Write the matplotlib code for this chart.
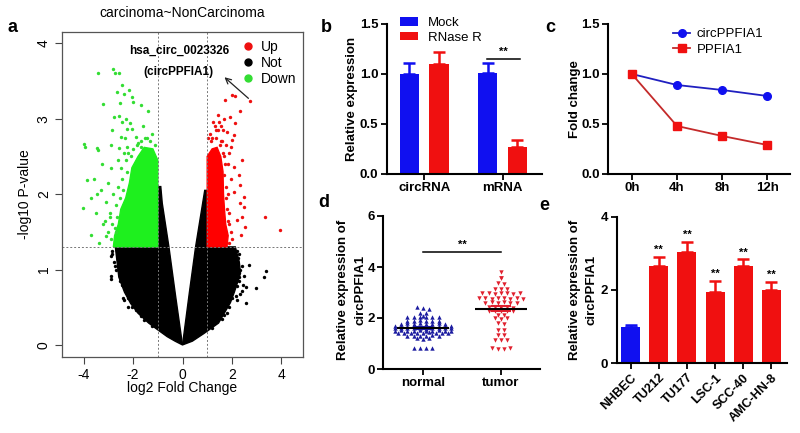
import numpy as np
import matplotlib
matplotlib.use('Agg')
import matplotlib.pyplot as plt
from matplotlib.lines import Line2D

plt.rcParams['font.family'] = ['Liberation Sans', 'DejaVu Sans']

# ---------------- panel a: volcano plot (carcinoma vs non-carcinoma) ----------------
fc_cut = 1.0          # |log2 FC| threshold
p_cut = 1.301         # -log10(0.05)

not_left = [(0, 0), (-0.3, 0.05), (-0.62, 0.11), (-1.0, 0.2), (-1.37, 0.29), (-1.8, 0.42),
            (-2.1, 0.55), (-2.35, 0.7), (-2.58, 0.9), (-2.65, 1.1), (-2.72, 1.3), (-1.0, 1.3),
            (-1.0, 2.1), (-0.88, 2.1), (-0.82, 1.88), (-0.55, 1.3), (-0.28, 0.65)]
not_right = [(0, 0), (0.28, 0.7), (0.53, 1.3), (0.9, 2.05), (1.0, 2.05), (1.0, 1.3), (2.14, 1.3),
             (2.3, 1.1), (2.35, 0.95), (2.1, 0.7), (1.94, 0.56), (1.46, 0.29), (0.86, 0.15),
             (0.4, 0.05)]
down_dense = [(-1.0, 1.3), (-2.8, 1.3), (-2.75, 1.45), (-2.6, 1.6), (-2.5, 1.8), (-2.3, 1.95),
              (-2.15, 2.15), (-2.05, 2.35), (-1.8, 2.5), (-1.55, 2.62), (-1.2, 2.6), (-1.0, 2.45)]
up_dense = [(1.0, 1.3), (1.8, 1.3), (1.85, 1.45), (1.75, 1.6), (1.7, 1.8), (1.66, 2.0),
            (1.64, 2.3), (1.55, 2.5), (1.4, 2.62), (1.2, 2.6), (1.0, 2.5)]

# sparse points outside the solid areas
down_x = [-3.41, -2.80, -2.73, -2.57, -2.46, -2.17, -2.67, -2.37, -2.06, -1.99, -3.22, -2.53,
          -1.70, -1.39, -2.78, -2.57, -2.30, -2.44, -2.13, -2.84, -2.23, -2.03, -2.48, -2.33,
          -1.90, -3.99, -3.96, -3.45, -2.91, -2.57, -2.23, -1.70, -3.42, -3.88, -4.01, -3.72,
          -3.38, -3.6, -3.3, -3.1, -3.5, -3.2, -2.9, -3.0, -3.25, -2.75, -3.45, -3.7, -2.95,
          -1.5, -1.8, -1.25, -2.6, -2.35, -1.6,
          -2.9, -3.0, -2.85, -2.95, -2.7, -2.8, -2.6, -2.45, -2.5, -2.3, -2.2, -2.0, -1.85,
          -1.3, -1.1, -2.65, -2.7, -2.4, -2.25, -2.1, -1.7, -1.45, -3.1, -3.15, -2.55]
down_y = [3.61, 3.66, 3.61, 3.60, 3.45, 3.38, 3.36, 3.33, 3.29, 3.22, 3.20, 3.21,
          3.18, 3.10, 3.02, 3.03, 3.00, 2.96, 2.94, 2.85, 2.87, 2.86, 2.76, 2.75,
          2.76, 2.66, 2.62, 2.61, 2.65, 2.61, 2.62, 2.63, 2.59, 2.19, 1.82, 1.46,
          1.35, 2.2, 2.05, 1.9, 1.75, 1.6, 2.35, 2.15, 2.4, 1.55, 2.0, 1.95, 1.7,
          2.75, 2.68, 2.8, 2.45, 2.55, 2.9,
          1.4, 1.5, 1.6, 1.75, 1.85, 2.0, 2.1, 2.2, 2.35, 2.45, 2.55, 2.6, 2.65,
          2.7, 2.65, 1.7, 1.5, 2.05, 2.3, 2.5, 2.7, 2.75, 1.45, 1.65, 1.95]
up_x = [1.74, 2.01, 2.14, 2.72, 2.34, 1.47, 1.67, 1.91, 2.14, 1.37, 1.80, 2.07, 2.01, 2.41,
        2.07, 2.27, 1.97, 1.87, 2.32, 2.07, 2.48, 2.32, 2.48, 3.35, 3.96, 2.55, 2.37, 2.21,
        2.41, 1.2, 1.55, 1.75, 1.3, 1.62, 1.85, 1.12, 1.45, 1.95, 1.7, 1.9,
        1.9, 1.95, 1.85, 1.8, 1.75, 1.78, 1.7, 1.72, 1.65, 1.5, 1.35, 1.15, 1.05, 1.6,
        1.45, 2.0, 1.9, 1.85, 1.25, 1.55]
up_y = [3.25, 3.32, 3.30, 3.24, 3.10, 2.96, 2.99, 3.02, 2.94, 2.85, 2.83, 2.78, 2.72, 2.45,
        2.36, 2.25, 2.63, 2.54, 2.12, 2.03, 1.96, 1.88, 1.83, 1.70, 1.53, 1.57, 1.46, 1.66,
        1.70, 2.75, 2.7, 2.65, 2.9, 2.85, 2.4, 2.8, 3.05, 2.2, 2.5, 1.75,
        1.35, 1.5, 1.65, 1.8, 1.95, 2.1, 2.25, 2.4, 2.55, 2.65, 2.75, 2.7, 2.75, 2.7,
        2.85, 1.4, 1.6, 2.0, 2.95, 2.9]
not_x = [2.68, 3.38, 3.29, 2.98, 2.57, 2.59, 2.34, 2.27, 2.34, -2.91, -2.84, -2.78, -2.71,
         -2.88, 2.45, 2.2, -2.4, -2.2, 1.8,
         -2.85, -2.6, -2.75, -2.5, -2.45, -2.3, -2.2, -2.05, -1.9, -1.7, -1.55, -1.25, -2.62,
         -2.9, -2.55, -2.35,
         2.2, 2.25, 2.4, 2.3, 2.2, 2.15, 2.0, 1.9, 1.7, 1.6, 1.2, 2.5, 2.42, 2.28]
not_y = [1.06, 0.98, 0.90, 0.76, 0.55, 0.77, 0.68, 0.90, 0.99, 0.88, 1.21, 1.10, 0.99,
         0.92, 0.8, 0.6, 0.62, 0.5, 0.42,
         1.25, 1.15, 1.05, 0.95, 0.8, 0.75, 0.62, 0.5, 0.46, 0.38, 0.33, 0.25, 1.22,
         1.18, 0.85, 0.6,
         1.25, 1.15, 1.05, 0.85, 0.78, 0.65, 0.62, 0.5, 0.4, 0.35, 0.22, 0.92, 0.72, 1.2]

# ---------------- panel b: RNase R ----------------
rna_types = ['circRNA', 'mRNA']
mock = [1.0, 1.01]
mock_err = [0.11, 0.10]
rnase = [1.10, 0.27]
rnase_err = [0.12, 0.07]

# ---------------- panel c: actinomycin D time course ----------------
hours = ['0h', '4h', '8h', '12h']
circ_fc = [1.0, 0.89, 0.84, 0.78]
linear_fc = [1.0, 0.48, 0.38, 0.29]

# ---------------- panel d: tissue expression ----------------
normal = [2.45, 2.38, 2.37, 2.2, 2.18, 2.05, 2.03, 2.04, 2.02, 2.06, 2.03, 2.05,
          1.9, 1.88, 1.91, 1.89, 1.9, 1.87, 1.78, 1.79, 1.77, 1.8, 1.76, 1.78, 1.79, 1.77,
          1.68, 1.69, 1.67, 1.7, 1.66, 1.68, 1.69, 1.67, 1.7, 1.68,
          1.6, 1.61, 1.59, 1.6, 1.62, 1.58, 1.6, 1.61, 1.59, 1.6,
          1.5, 1.51, 1.49, 1.5, 1.52, 1.48, 1.5, 1.51, 1.49, 1.5,
          1.42, 1.41, 1.43, 1.4, 1.42, 1.44, 1.41, 1.42, 1.43,
          1.3, 1.31, 1.29, 1.3, 1.32, 1.28, 1.2, 1.19, 1.21, 0.84, 0.83, 0.82, 0.84]
tumor = [3.82, 3.57, 3.55, 3.37, 3.35, 3.14, 3.12, 3.13,
         2.97, 2.98, 2.96, 2.97, 2.99, 2.96, 2.98,
         2.77, 2.78, 2.76, 2.77, 2.79, 2.75, 2.78, 2.76,
         2.6, 2.61, 2.59, 2.62, 2.6, 2.58,
         2.44, 2.43, 2.42, 2.44, 2.41,
         2.27, 2.26, 2.28, 2.26, 2.27, 2.12, 2.11, 1.99, 1.98, 2.0,
         1.79, 1.78, 1.53, 1.52, 1.33, 1.32, 1.14, 1.13, 1.15, 0.84, 0.78, 0.77, 0.83]

# ---------------- panel e: cell lines ----------------
cell_lines = ['NHBEC', 'TU212', 'TU177', 'LSC-1', 'SCC-40', 'AMC-HN-8']
cell_expr = [1.0, 2.66, 3.03, 1.94, 2.65, 2.0]
cell_err = [0.05, 0.24, 0.28, 0.31, 0.19, 0.23]

BLUE = '#1010f0'
RED = '#f01010'

W, H = 800, 433
fig = plt.figure(figsize=(W / 100, H / 100), dpi=100)


def px_axes(left, top, right, bottom):
    return fig.add_axes([left / W, 1 - bottom / H, (right - left) / W, (bottom - top) / H])


def fig_text(x, y, s, **kw):
    fig.text(x / W, 1 - y / H, s, **kw)


def prism_style(ax):
    for side in ['top', 'right']:
        ax.spines[side].set_visible(False)
    for side in ['left', 'bottom']:
        ax.spines[side].set_linewidth(1.5)
    ax.tick_params(direction='out', length=4, width=1.3, labelsize=9.5, pad=2)


def swarm(values, row=0.1, step=0.08):
    # lay points of the same row side by side, like a prism scatter dot plot
    vals = np.asarray(values)
    bins = np.round(vals / row).astype(int)
    offs = np.zeros(len(vals))
    for b in np.unique(bins):
        idx = np.where(bins == b)[0]
        offs[idx] = (np.arange(len(idx)) - (len(idx) - 1) / 2) * step
    return offs


# ======== a ========
ax = px_axes(62, 32, 303, 357)
ax.fill(*zip(*not_left), color='black', lw=1.0)
ax.fill(*zip(*not_right), color='black', lw=1.0)
ax.scatter(not_x, not_y, s=6, color='black', lw=0)
ax.fill(*zip(*up_dense), color='#ff0000', lw=1.0)
ax.scatter(up_x, up_y, s=6, color='#ee1010', lw=0)
ax.fill(*zip(*down_dense), color='#1ef01e', lw=1.0)
ax.scatter(down_x, down_y, s=6, color='#33dd33', lw=0)
ax.axhline(p_cut, ls=(0, (2, 2)), color='#777777', lw=0.7)
ax.axvline(-fc_cut, ls=(0, (2, 2)), color='#777777', lw=0.7)
ax.axvline(fc_cut, ls=(0, (2, 2)), color='#777777', lw=0.7)
ax.set_xlim(-4.88, 4.88)
ax.set_ylim(-0.16, 4.15)
ax.set_xticks([-4, -2, 0, 2, 4], ['-4', '-2', '0', '2', '4'])
ax.set_yticks([0, 1, 2, 3, 4], ['0', '1', '2', '3', '4'], rotation=90, va='center')
ax.tick_params(direction='out', length=5, width=0.8, color='#444444', labelsize=10, pad=3)
for sp in ax.spines.values():
    sp.set_color('#555555')
    sp.set_linewidth(0.9)
ax.text(-0.15, 3.9, 'hsa_circ_0023326', ha='center', va='center', fontsize=8.5, fontweight='bold')
ax.text(-0.15, 3.62, '(circPPFIA1)', ha='center', va='center', fontsize=8.5, fontweight='bold')
ax.annotate('', xy=(1.7, 3.55), xytext=(2.67, 3.27),
            arrowprops=dict(arrowstyle='->', color='#222222', lw=0.9, shrinkA=0, shrinkB=0))
hands = [Line2D([], [], ls='', marker='o', ms=5, color=c) for c in ['#ee1010', 'black', '#33dd33']]
ax.legend(hands, ['Up', 'Not', 'Down'], loc='upper left', bbox_to_anchor=(244 / W, 1 - 40 / H),
          bbox_transform=fig.transFigure, frameon=False, fontsize=10, handlelength=0.6,
          handletextpad=0.6, labelspacing=0.15, borderpad=0, borderaxespad=0)
fig_text(182, 13, 'carcinoma~NonCarcinoma', ha='center', va='center', fontsize=10)
fig_text(182, 388, 'log2 Fold Change', ha='center', va='center', fontsize=10)
fig_text(25, 194, '-log10 P-value', ha='center', va='center', rotation=90, fontsize=10)
fig_text(12, 27, 'a', ha='center', va='center', fontsize=13, fontweight='bold')

# ======== b ========
axb = px_axes(386.7, 24, 541.7, 174)
prism_style(axb)
xb = np.arange(len(rna_types))
axb.bar(xb - 0.19, mock, 0.247, color=BLUE, label='Mock',
        yerr=[np.zeros(2), mock_err], error_kw=dict(ecolor=BLUE, elinewidth=1.8, capsize=4, capthick=1.8))
axb.bar(xb + 0.19, rnase, 0.247, color=RED, label='RNase R',
        yerr=[np.zeros(2), rnase_err], error_kw=dict(ecolor=RED, elinewidth=1.8, capsize=4, capthick=1.8))
axb.set_xlim(-0.48, 1.5)
axb.set_ylim(0, 1.5)
axb.set_yticks([0, 0.5, 1.0, 1.5], ['0.0', '0.5', '1.0', '1.5'], fontweight='bold')
axb.set_xticks(xb, rna_types, fontweight='bold')
axb.plot([0.8, 1.22], [1.153, 1.153], color='black', lw=1.1)
axb.text(1.01, 1.17, '**', ha='center', va='bottom', fontsize=8, fontweight='bold')
axb.legend(loc='upper left', bbox_to_anchor=(400 / W, 1 - 17 / H), bbox_transform=fig.transFigure,
           frameon=False, prop=dict(size=9.5), handlelength=1.4, handleheight=0.65,
           handletextpad=0.7, labelspacing=0.2, borderpad=0, borderaxespad=0)
fig_text(351.7, 99, 'Relative expression', ha='center', va='center', rotation=90,
         fontsize=9.5, fontweight='bold')
fig_text(326, 27, 'b', ha='center', va='center', fontsize=13, fontweight='bold')

# ======== c ========
axc = px_axes(608.3, 24, 790, 174)
prism_style(axc)
xc = np.arange(len(hours))
axc.plot(xc, circ_fc, color='#2020c0', lw=1.3, marker='o', ms=5.5, mfc=BLUE, mec=BLUE, label='circPPFIA1')
axc.plot(xc, linear_fc, color='#c42a2a', lw=1.3, marker='s', ms=5.5, mfc=RED, mec=RED, label='PPFIA1')
axc.set_xlim(-0.52, 3.5)
axc.set_ylim(0, 1.5)
axc.set_yticks([0, 0.5, 1.0, 1.5], ['0.0', '0.5', '1.0', '1.5'], fontweight='bold')
axc.set_xticks(xc, hours, fontweight='bold')
axc.legend(loc='upper left', bbox_to_anchor=(673 / W, 1 - 28 / H), bbox_transform=fig.transFigure,
           frameon=False, prop=dict(size=9.5), handlelength=1.3, handletextpad=0.5,
           labelspacing=0.25, borderpad=0, borderaxespad=0)
fig_text(575, 99, 'Fold change', ha='center', va='center', rotation=90, fontsize=9.5, fontweight='bold')
fig_text(550, 27, 'c', ha='center', va='center', fontsize=13, fontweight='bold')

# ======== d ========
axd = px_axes(383.3, 216, 540, 369)
prism_style(axd)
for i, (vals, mk, col) in enumerate([(normal, '^', '#1c1ca0'), (tumor, 'v', '#e0202e')]):
    vals = np.asarray(vals)
    axd.scatter(i + swarm(vals), vals, marker=mk, s=10, color=col, lw=0, zorder=3)
    m = vals.mean()
    sem = vals.std(ddof=1) / np.sqrt(len(vals))
    axd.errorbar(i, m, yerr=sem, color=col, lw=1.5, capsize=7, capthick=1.5, zorder=4)
    axd.hlines(m, i - 0.33, i + 0.33, color='black', lw=1.5, zorder=5)
axd.set_xlim(-0.51, 1.5)
axd.set_ylim(0, 6)
axd.set_yticks([0, 2, 4, 6], ['0', '2', '4', '6'], fontweight='bold')
axd.set_xticks([0, 1], ['normal', 'tumor'], fontweight='bold')
axd.plot([0, 1], [4.6, 4.6], color='black', lw=1.1)
axd.text(0.5, 4.68, '**', ha='center', va='bottom', fontsize=8, fontweight='bold')
fig_text(343.3, 290, 'Relative expression of', ha='center', va='center', rotation=90,
         fontsize=9.5, fontweight='bold')
fig_text(360, 290, 'circPPFIA1', ha='center', va='center', rotation=90, fontsize=9.5, fontweight='bold')
fig_text(324, 203, 'd', ha='center', va='center', fontsize=13, fontweight='bold')

# ======== e ========
axe = px_axes(616.7, 216.7, 786.7, 363.3)
prism_style(axe)
xe = np.arange(len(cell_lines))
cols = [BLUE] + [RED] * (len(cell_lines) - 1)
for i in xe:
    axe.bar(i, cell_expr[i], 0.67, color=cols[i],
            yerr=[[0], [cell_err[i]]], error_kw=dict(ecolor=cols[i], elinewidth=1.8, capsize=4, capthick=1.8))
    if i > 0:
        axe.text(i, cell_expr[i] + cell_err[i] + 0.05, '**', ha='center', va='bottom',
                 fontsize=8, fontweight='bold')
axe.set_xlim(-0.49, 5.54)
axe.set_ylim(0, 4)
axe.set_yticks([0, 2, 4], ['0', '2', '4'], fontweight='bold')
axe.set_xticks(xe, cell_lines, fontweight='bold', rotation=45, ha='right', rotation_mode='anchor',
               fontsize=9)
fig_text(575, 290, 'Relative expression of', ha='center', va='center', rotation=90,
         fontsize=9.5, fontweight='bold')
fig_text(591.7, 290, 'circPPFIA1', ha='center', va='center', rotation=90, fontsize=9.5, fontweight='bold')
fig_text(544, 205, 'e', ha='center', va='center', fontsize=13, fontweight='bold')

fig.savefig('out.png', dpi=100)
